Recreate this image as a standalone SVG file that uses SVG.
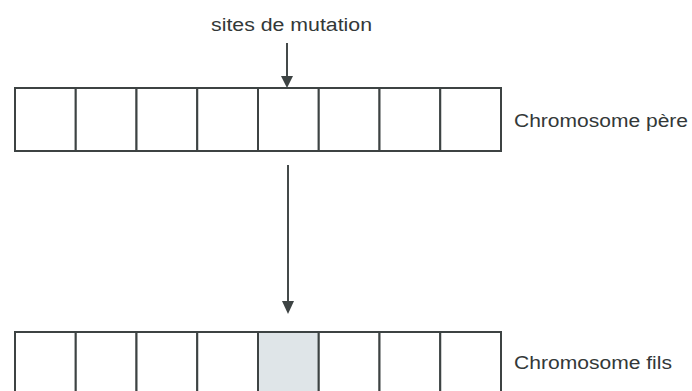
<svg xmlns="http://www.w3.org/2000/svg" width="692" height="391" viewBox="0 0 692 391">
<defs>
<style>
.cell{fill:#ffffff;stroke:#3d4343;stroke-width:2}
.mut{fill:#dfe5e8;stroke:#3d4343;stroke-width:2}
.lbl{font-family:"Liberation Sans",Arial,sans-serif;font-size:18px;fill:#333838}
.conn{stroke:#444a4a;stroke-width:2;fill:none}
.head{fill:#3d4343}
</style>
</defs>
<rect width="692" height="391" fill="#ffffff"/>
<g id="label-sites">
<text class="lbl" x="211" y="31" textLength="161" lengthAdjust="spacingAndGlyphs">sites de mutation</text>
</g>
<g id="chromosome-pere">
<rect class="cell" x="15" y="88" width="60.75" height="63"/>
<rect class="cell" x="75.75" y="88" width="60.75" height="63"/>
<rect class="cell" x="136.5" y="88" width="60.75" height="63"/>
<rect class="cell" x="197.25" y="88" width="60.75" height="63"/>
<rect class="cell" x="258" y="88" width="60.75" height="63"/>
<rect class="cell" x="318.75" y="88" width="60.75" height="63"/>
<rect class="cell" x="379.5" y="88" width="60.75" height="63"/>
<rect class="cell" x="440.25" y="88" width="60.75" height="63"/>
<text class="lbl" x="514" y="127" textLength="174" lengthAdjust="spacingAndGlyphs">Chromosome père</text>
</g>
<g id="chromosome-fils">
<rect class="cell" x="15" y="332" width="60.75" height="63"/>
<rect class="cell" x="75.75" y="332" width="60.75" height="63"/>
<rect class="cell" x="136.5" y="332" width="60.75" height="63"/>
<rect class="cell" x="197.25" y="332" width="60.75" height="63"/>
<rect class="mut" x="258" y="332" width="60.75" height="63"/>
<rect class="cell" x="318.75" y="332" width="60.75" height="63"/>
<rect class="cell" x="379.5" y="332" width="60.75" height="63"/>
<rect class="cell" x="440.25" y="332" width="60.75" height="63"/>
<text class="lbl" x="514" y="369" textLength="158" lengthAdjust="spacingAndGlyphs">Chromosome fils</text>
</g>
<g id="connectors">
<line class="conn" x1="287" y1="43" x2="287" y2="79"/>
<polygon class="head" points="281,76 293,76 287,88"/>
<line class="conn" x1="288" y1="165" x2="288" y2="304"/>
<polygon class="head" points="282,301 294,301 288,314"/>
</g>
</svg>
